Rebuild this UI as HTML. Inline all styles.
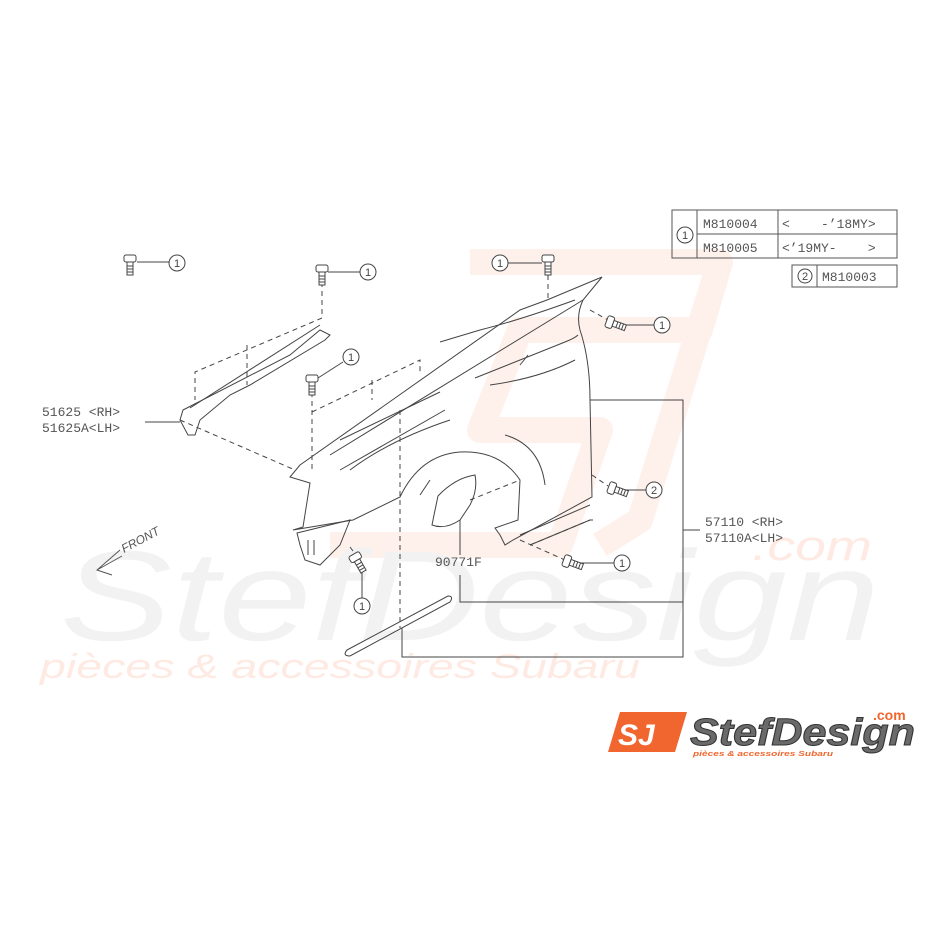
<!DOCTYPE html>
<html><head><meta charset="utf-8"><style>
html,body{margin:0;padding:0;background:#fff}
svg{display:block}
.s{font-family:"Liberation Sans",sans-serif}
.m{font-family:"Liberation Mono",monospace}
</style></head><body>
<svg width="931" height="931" viewBox="0 0 931 931" xmlns="http://www.w3.org/2000/svg">
<defs>
<g id="bolt" fill="#fff" stroke="#444" stroke-width="1">
<rect x="-6" y="-9" width="12" height="7" rx="2"/>
<rect x="-3" y="-2" width="6" height="13"/>
<line x1="-3" y1="2" x2="3" y2="2"/><line x1="-3" y1="5" x2="3" y2="5"/><line x1="-3" y1="8" x2="3" y2="8"/>
</g>
</defs>
<!-- faint background SJ -->
<g fill="none" stroke="#fef1eb" stroke-width="26" stroke-linejoin="round">
<path d="M470 262 L720 262 L700 330 L520 330 L480 430 L600 430 L560 545 L330 545"/>
<path d="M720 262 L640 520 L600 545"/>
</g>
<!-- watermark -->
<text class="s" x="60" y="640" font-size="128" font-style="italic" fill="#f2f2f2" textLength="820" lengthAdjust="spacingAndGlyphs">StefDesign</text>
<text class="s" x="752" y="560" font-size="42" font-style="italic" fill="#feeae2" textLength="120" lengthAdjust="spacingAndGlyphs">.com</text>
<text class="s" x="40" y="678" font-size="34" font-style="italic" fill="#feeae2" textLength="600" lengthAdjust="spacingAndGlyphs">pièces &amp; accessoires Subaru</text>

<g fill="none" stroke="#444" stroke-width="1">
<path d="M602 277 L583 300 Q576 315 580 330 Q590 360 590 400 L592 497 L513 540 L505 545 L500 535 L495 528 L518 520 L520 480 Q500 450 460 452 Q420 455 400 497 L353 520 L293 530 L303 527 L310 483 L290 477 L300 465 L520 310 L547 300 Z"/>
<path d="M583 300 L330 455"/>
<path d="M440 342 L480 330 Q520 320 575 300"/>
<path d="M475 378 Q520 360 565 342 Q575 338 578 335"/>
<path d="M490 385 Q540 378 575 360"/>
<path d="M520 365 L528 355"/>
<path d="M440 392 L340 440"/>
<path d="M445 410 L340 470"/>
<path d="M450 420 Q390 440 350 470"/>
<path d="M505 435 Q540 445 545 485"/>
<path d="M430 480 L420 495"/>
<path d="M438 496 Q455 478 475 475 Q478 490 470 505 L460 520 Q445 530 432 525 Q435 510 438 496Z"/>
<path d="M590 505 L520 535 M590 520 L530 545"/>
<path d="M297 533 L350 520 L340 545 L320 565 L305 560 L300 545 Z"/>
<path d="M308 540 L308 555 M314 540 L314 555"/>
<path d="M183 410 L290 355 L320 330 L330 335 L325 340 L250 385 L230 395 L200 420 L195 435 L188 435 L180 420 Z"/>
<path d="M190 408 L320 325"/>
<path d="M347 650 L448 596 Q454 596 450 602 L350 656 Q342 656 347 650Z"/>
<path d="M137 262 L169 262"/>
<path d="M328 272 L360 272"/>
<path d="M318 378 L343 362"/>
<path d="M508 263 L542 263"/>
<path d="M622 325 L654 325"/>
<path d="M622 490 L646 490"/>
<path d="M578 563 L614 563"/>
<path d="M362 570 L362 598"/>
<path d="M145 422 L180 422"/>
<path d="M590 400 L683 400 L683 657 L402 657 L402 628"/>
<path d="M683 530 L700 530"/>
<path d="M460 520 L460 555 M460 575 L460 602 L683 602"/>
</g>
<g fill="none" stroke="#444" stroke-width="1" stroke-dasharray="5,4">
<path d="M548 275 L548 298"/>
<path d="M322 282 L322 318 L195 372 L195 400"/>
<path d="M247 345 L247 385"/>
<path d="M312 392 L312 470"/>
<path d="M312 412 L420 360 L420 372"/>
<path d="M372 380 L372 400"/>
<path d="M400 410 L400 628"/>
<path d="M180 420 L295 470"/>
<path d="M590 310 L608 320"/>
<path d="M592 475 L608 486"/>
<path d="M520 540 L565 560"/>
<path d="M350 547 L356 555"/>
<path d="M470 500 L520 480"/>
<path d="M530 545 L590 520 L595 520"/>
</g>
<use href="#bolt" x="130" y="264"/>
<use href="#bolt" x="322" y="274"/>
<use href="#bolt" x="312" y="384"/>
<use href="#bolt" x="548" y="264"/>
<use href="#bolt" transform="translate(615,324) rotate(-70)"/>
<use href="#bolt" transform="translate(617,490) rotate(-70)"/>
<use href="#bolt" transform="translate(572,563) rotate(-70)"/>
<use href="#bolt" transform="translate(358,562) rotate(-30)"/>
<g fill="#fff" stroke="#444" stroke-width="1">
<circle cx="177" cy="263" r="8"/><circle cx="368" cy="272" r="8"/><circle cx="351" cy="357" r="8"/>
<circle cx="500" cy="263" r="8"/><circle cx="662" cy="325" r="8"/><circle cx="654" cy="490" r="8"/>
<circle cx="622" cy="563" r="8"/><circle cx="362" cy="606" r="8"/><circle cx="685" cy="235" r="8"/><circle cx="805" cy="276" r="7"/>
</g>
<g class="s" font-size="11" fill="#444" text-anchor="middle">
<text x="177" y="267">1</text><text x="368" y="276">1</text><text x="351" y="361">1</text>
<text x="500" y="267">1</text><text x="662" y="329">1</text><text x="654" y="494">2</text>
<text x="622" y="567">1</text><text x="362" y="610">1</text><text x="685" y="239">1</text><text x="805" y="280">2</text>
</g>
<g fill="none" stroke="#555" stroke-width="1">
<rect x="672" y="210" width="225" height="48"/>
<line x1="697" y1="210" x2="697" y2="258"/><line x1="778" y1="210" x2="778" y2="258"/>
<line x1="697" y1="234" x2="897" y2="234"/>
<rect x="792" y="265" width="105" height="22"/><line x1="817" y1="265" x2="817" y2="287"/>
</g>
<g class="m" font-size="13" fill="#555">
<text x="703" y="228">M810004</text>
<text x="703" y="252">M810005</text>
<text x="782" y="228" xml:space="preserve">&lt;    -’18MY&gt;</text>
<text x="782" y="252" xml:space="preserve">&lt;’19MY-    &gt;</text>
<text x="822" y="281">M810003</text>
</g>
<g class="m" font-size="13" fill="#555">
<text x="42" y="416" xml:space="preserve">51625 &lt;RH&gt;</text>
<text x="42" y="432">51625A&lt;LH&gt;</text>
<text x="705" y="526" xml:space="preserve">57110 &lt;RH&gt;</text>
<text x="705" y="542">57110A&lt;LH&gt;</text>
<text x="435" y="566">90771F</text>
</g>
<g stroke="#555" fill="none" stroke-width="1">
<path d="M120 550 L97 570 L112 575 M97 570 L122 556"/>
</g>
<text class="s" transform="translate(124,553) rotate(-28)" font-size="12" font-style="italic" fill="#555">FRONT</text>
<path d="M620 712 L687 712 L675 752 L608 752 Z" fill="#f0662e"/>
<text class="s" x="618" y="745" font-size="30" font-weight="bold" font-style="italic" fill="#fff">SJ</text>
<text class="s" x="690" y="745" font-size="38" font-weight="bold" font-style="italic" fill="#6a6a6a" stroke="#333" stroke-width="1" textLength="225" lengthAdjust="spacingAndGlyphs">StefDesign</text>
<text class="s" x="873" y="720" font-size="14" font-weight="bold" fill="#f0662e">.com</text>
<text class="s" x="693" y="756" font-size="7" font-weight="bold" font-style="italic" fill="#f0662e" textLength="140" lengthAdjust="spacingAndGlyphs">pièces &amp; accessoires Subaru</text>
</svg>
</body></html>
